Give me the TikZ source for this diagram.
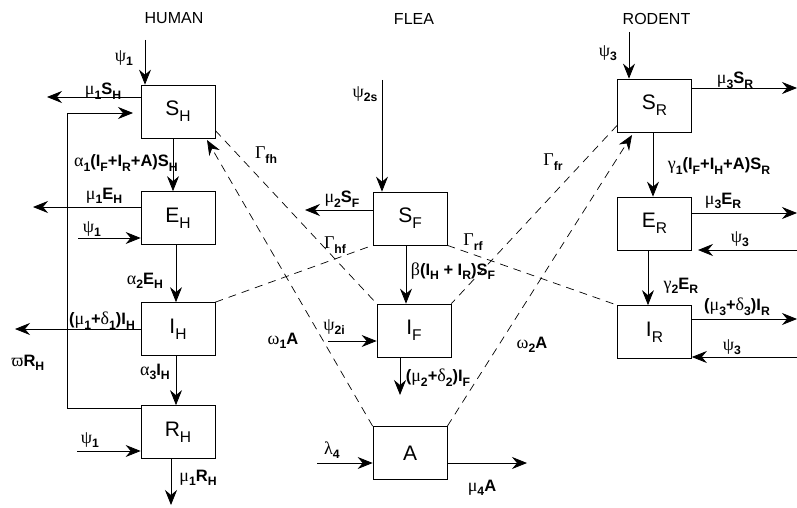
\documentclass[tikz,border=0pt]{standalone}
\usepackage{graphicx}
\usepackage{fontspec}
\setmainfont{Liberation Sans}
\newfontfamily\grk{Liberation Serif}
\usetikzlibrary{arrows.meta,positioning}
\newcommand\gr[1]{{\grk\mdseries\fontsize{18}{20}\selectfont #1}}
\newcommand\dn[1]{\raisebox{-0.28em}{\scalebox{0.74}{#1}}}

\begin{document}
\begin{tikzpicture}[x=1pt,y=-1pt,>={Stealth[length=15pt,width=12pt,inset=5pt]},node distance=107pt,on grid,
    comp/.style={draw,line width=0.7pt,minimum width=74pt,minimum height=53pt,inner sep=0pt,font=\fontsize{21}{24}\selectfont},
    lab/.style={font=\bfseries\fontsize{16.5}{18}\selectfont,inner sep=0pt},
    flow/.style={->,line width=0.8pt},
    link/.style={line width=0.7pt,dash pattern=on 8pt off 6pt}]
        \useasboundingbox (0,0) rectangle (797,508);
        \node[comp] (SH) at (178,111.5) {S\dn{H}};
        \node[comp] (EH) [below=106.5pt of SH] {E\dn{H}};
        \node[comp] (IH) [below=111pt of EH] {I\dn{H}};
        \node[comp] (RH) [below=103pt of IH] {R\dn{H}};
        \node[comp] (SF) at (410,218.5) {S\dn{F}};
        \node[comp] (IF) [below=112pt of SF,xshift=4pt] {I\dn{F}};
        \node[comp] (A) [below=234.5pt of SF] {A};
        \node[comp] (SR) at (654.5,105.5) {S\dn{R}};
        \node[comp] (ER) [below=118pt of SR] {E\dn{R}};
        \node[comp] (IR) [below=108.5pt of ER] {I\dn{R}};
        \tikzset{every node/.style={font=\fontsize{16}{19}\selectfont}}
        \node (human) [above=93pt of SH,xshift=-4pt] {HUMAN};
        \node (flea) [above=200pt of SF,xshift=4pt] {FLEA};
        \node (rodent) [above=87pt of SR,xshift=2pt] {RODENT};
        \tikzset{every node/.style={}}

        \coordinate (h1) at (145,40);
        \coordinate (h2) at (47,97);
        \coordinate (h3) at (67,113);
        \coordinate (h3b) at (133,113);
        \coordinate (h4) at (33,207);
        \coordinate (h5) at (78,238);
        \coordinate (h6) at (15,329);
        \coordinate (h7) at (77,451);
        \coordinate (h8) at (171,505);
        \draw[flow] (h1) -- (h1 |- SH.north);
        \draw[flow] (SH.west |- h2) -- (h2);
        \draw[flow] ([yshift=-3pt]RH.north west) -| (h3) -- (h3b);
        \draw[flow] ([xshift=-5pt]SH.south) -- ([xshift=-5pt]EH.north);
        \draw[flow] (EH.west |- h4) -- (h4);
        \draw[flow] (h5) -- (h5 -| EH.west);
        \draw[flow] ([xshift=-2pt]EH.south) -- ([xshift=-2pt]IH.north);
        \draw[flow] (IH.west |- h6) -- (h6);
        \draw[flow] ([xshift=-2pt]IH.south) -- ([xshift=-2pt]RH.north);
        \draw[flow] (h7) -- (h7 -| RH.west);
        \draw[flow] (h8 |- RH.south) -- (h8);
        \node[lab] (t1) at (124,58) {\gr{ψ}\dn{1}};
        \node[lab] (t2) at (103,91) {\gr{μ}\dn{1}S\dn{H}};
        \node[lab,anchor=east] (t3) at (178,163) {\gr{α}\dn{1}(I\dn{F}+I\dn{R}+A)S\dn{H}};
        \node[lab] (t4) at (104,196) {\gr{μ}\dn{1}E\dn{H}};
        \node[lab] (t5) at (92,229) {\gr{ψ}\dn{1}};
        \node[lab] (t6) at (145,281) {\gr{α}\dn{2}E\dn{H}};
        \node[lab] (t7) at (102,321) {(\gr{μ}\dn{1}+\gr{δ}\dn{1})I\dn{H}};
        \node[lab] (t8) at (28,363) {\gr{ϖ}R\dn{H}};
        \node[lab] (t9) at (155,372) {\gr{α}\dn{3}I\dn{H}};
        \node[lab] (t10) at (90,440) {\gr{ψ}\dn{1}};
        \node[lab] (t11) at (198,478) {\gr{μ}\dn{1}R\dn{H}};

        \coordinate (f1) at (382,80);
        \coordinate (f2) at (305,210);
        \coordinate (f4) at (328,341);
        \coordinate (f5) at (400,395);
        \coordinate (f6) at (317,463);
        \coordinate (f7) at (527,463);
        \draw[flow] (f1) -- (f1 |- SF.north);
        \draw[flow] (SF.west |- f2) -- (f2);
        \draw[flow] ([xshift=-4pt]SF.south) -- ([xshift=-8pt]IF.north);
        \draw[flow] (f4) -- (f4 -| IF.west);
        \draw[flow] (f5 |- IF.south) -- (f5);
        \draw[flow] (f6) -- (f6 -| A.west);
        \draw[flow] (A.east |- f7) -- (f7);
        \node[lab] (t12) at (365,94) {\gr{ψ}\dn{2s}};
        \node[lab] (t13) at (342,199) {\gr{μ}\dn{2}S\dn{F}};
        \node[lab] (t14) at (453,271) {\gr{β}(I\dn{H} + I\dn{R})S\dn{F}};
        \node[lab] (t15) at (334,327) {\gr{ψ}\dn{2i}};
        \node[lab] (t16) at (438,378) {(\gr{μ}\dn{2}+\gr{δ}\dn{2})I\dn{F}};
        \node[lab] (t17) at (332,450) {\gr{λ}\dn{4}};
        \node[lab] (t18) at (482,488) {\gr{μ}\dn{4}A};

        \coordinate (r1) at (629,32);
        \coordinate (r2) at (797,88);
        \coordinate (r3) at (797,213);
        \coordinate (r4) at (797,250);
        \coordinate (r4b) at (698,250);
        \coordinate (r5) at (797,319);
        \coordinate (r6) at (797,357);
        \draw[flow] (r1) -- (r1 |- SR.north);
        \draw[flow] (SR.east |- r2) -- (r2);
        \draw[flow] ([xshift=-1.5pt]SR.south) -- ([xshift=-1.5pt]ER.north);
        \draw[flow] (ER.east |- r3) -- (r3);
        \draw[flow] (r4) -- (r4b);
        \draw[flow] ([xshift=-6.5pt]ER.south) -- ([xshift=-6.5pt]IR.north);
        \draw[flow] (IR.east |- r5) -- (r5);
        \draw[flow] (r6) -- (r6 -| IR.east);
        \node[lab] (t19) at (608,53) {\gr{ψ}\dn{3}};
        \node[lab] (t20) at (735,80) {\gr{μ}\dn{3}S\dn{R}};
        \node[lab] (t21) at (719,166) {\gr{γ}\dn{1}(I\dn{F}+I\dn{H}+A)S\dn{R}};
        \node[lab] (t22) at (723,201) {\gr{μ}\dn{3}E\dn{R}};
        \node[lab] (t23) at (740,239) {\gr{ψ}\dn{3}};
        \node[lab] (t24) at (681,286) {\gr{γ}\dn{2}E\dn{R}};
        \node[lab] (t25) at (737,307) {(\gr{μ}\dn{3}+\gr{δ}\dn{3})I\dn{R}};
        \node[lab] (t26) at (732,347) {\gr{ψ}\dn{3}};

        \coordinate (a1) at (207,140);
        \coordinate (a2) at (632,135);
        \draw[link] (SH.-27) -- (IF.north west);
        \draw[link,->] (A.north west) -- (a1);
        \draw[link] (IH.north east) -- (SF.south west);
        \draw[link] ([yshift=7pt]SR.south west) -- (IF.north east);
        \draw[link,->] (A.north east) -- (a2);
        \draw[link] (SF.south east) -- (IR.north west);
        \node[lab] (g1) at (266,155) {\gr{Γ}\dn{fh}};
        \node[lab] (g2) at (335,245) {\gr{Γ}\dn{hf}};
        \node[lab] (g3) at (473,242) {\gr{Γ}\dn{rf}};
        \node[lab] (g4) at (553,162) {\gr{Γ}\dn{fr}};
        \node[lab] (g5) at (283,341) {\gr{ω}\dn{1}A};
        \node[lab] (g6) at (532,345) {\gr{ω}\dn{2}A};
    \end{tikzpicture}
\end{document}
